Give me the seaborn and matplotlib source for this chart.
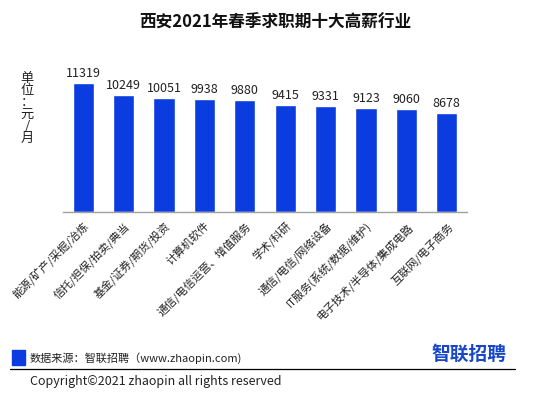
import matplotlib
matplotlib.use("Agg")
import matplotlib.pyplot as plt
import seaborn as sns
import pandas as pd
import numpy as np
from matplotlib.patches import Rectangle
from matplotlib.lines import Line2D

categories = ["能源/矿产/采掘/冶炼", "信托/担保/拍卖/典当", "基金/证券/期货/投资", "计算机软件",
              "通信/电信运营、增值服务", "学术/科研", "通信/电信/网络设备", "IT服务(系统/数据/维护)",
              "电子技术/半导体/集成电路", "互联网/电子商务"]
salaries = [11319, 10249, 10051, 9938, 9880, 9415, 9331, 9123, 9060, 8678]

title = "西安2021年春季求职期十大高薪行业"
unit_label = "单位：元/月"
source_text = "数据来源：智联招聘（www.zhaopin.com)"
copyright_text = "Copyright©2021 zhaopin all rights reserved"
logo_text = "智联招聘"

sns.set_style("white")
plt.rcParams['font.family'] = ['Noto Sans CJK SC', 'DejaVu Sans']

BLUE = "#0A3CDF"
df = pd.DataFrame({"cat": categories, "val": salaries})

fig = plt.figure(figsize=(5.5, 3.97), dpi=100)
ax = fig.add_axes([63/550, (397-212)/397, (467-63)/550, (212-68)/397])
sns.barplot(data=df, x="cat", y="val", color=BLUE, width=0.52, saturation=1, ax=ax)
ax.set_ylim(0, 12650)
ax.set_xlim(-0.5, len(categories) - 0.5)
for s in ["top", "right", "left"]:
    ax.spines[s].set_visible(False)
ax.spines["bottom"].set_color("#A0A0A0")
ax.spines["bottom"].set_linewidth(1.0)
ax.set_yticks([])
ax.set_xlabel("")
ax.set_ylabel("")
ax.set_xticks(range(len(categories)))
ax.set_xticklabels(categories, rotation=45, ha="right", rotation_mode="anchor", fontsize=8, color="#222222")
ax.tick_params(axis="x", which="major", length=0, pad=6)
ax.set_xticks(np.arange(-0.5, len(categories), 1), minor=True)
ax.tick_params(axis="x", which="minor", length=3, color="#A0A0A0", width=0.8, direction="out")
for i, v in enumerate(salaries):
    ax.text(i, v + 250, str(v), ha="center", va="bottom", fontsize=9, color="#222222")

fig.text(0.5, 1 - 23/397, title, ha="center", va="center", fontsize=12, fontweight="bold", color="#111111")
fig.text(27/550, 1 - 108/397, "\n".join(["单", "位", "：", "元", "/", "月"]), ha="center", va="center",
         fontsize=9.5, color="#222222", linespacing=0.9)

fig.patches.append(Rectangle((12/550, 1 - 365/397), 13/550, 15/397, transform=fig.transFigure,
                             color=BLUE, figure=fig))
fig.text(30/550, 1 - 358/397, source_text, ha="left", va="center", fontsize=8, color="#222222")
fig.lines.append(Line2D([10/550, 515/550], [1 - 369/397, 1 - 369/397], transform=fig.transFigure,
                        color="black", linewidth=0.9, figure=fig))
fig.text(30/550, 1 - 382/397, copyright_text, ha="left", va="center", fontsize=9, color="#222222")
fig.text(506/550, 1 - 354/397, logo_text, ha="right", va="center", fontsize=13.5, fontweight="bold", color="#1747C8")

fig.savefig("out.png", dpi=100, facecolor="white")
